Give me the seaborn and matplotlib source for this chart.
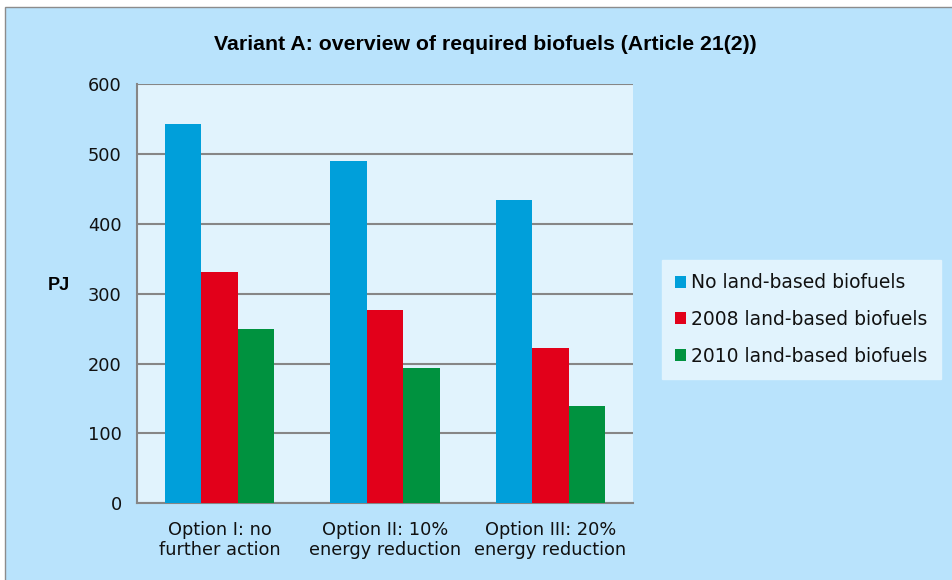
import numpy as np
import pandas as pd
import matplotlib.pyplot as plt
import seaborn as sns
from matplotlib.patches import Rectangle

# Data
options = ['Option I: no\nfurther action', 'Option II: 10%\nenergy reduction', 'Option III: 20%\nenergy reduction']
no_land = [544, 490, 435]
land_2008 = [331, 277, 222]
land_2010 = [249, 194, 140]
series = ['No land-based biofuels', '2008 land-based biofuels', '2010 land-based biofuels']
colors = ['#009fda', '#e2001a', '#00923f']

df = pd.DataFrame({
    'option': options * 3,
    'scenario': [series[0]] * 3 + [series[1]] * 3 + [series[2]] * 3,
    'PJ': no_land + land_2008 + land_2010,
})

sns.set_style('white')
plt.rcParams['font.family'] = ['DejaVu Sans']
plt.rcParams['text.color'] = '#111111'

fig = plt.figure(figsize=(9.52, 5.8), dpi=100)
fig.patch.set_facecolor('white')
fig.patches.append(Rectangle((5 / 952, -0.05), 1.1, 1 - 7 / 580 + 0.05, transform=fig.transFigure,
                             facecolor='#b9e3fc', edgecolor='#8c8c8c', linewidth=1, zorder=-10))

ax = fig.add_axes([137 / 952, 1 - 503.3 / 580, (633 - 137) / 952, (503.3 - 84.5) / 580])
sns.barplot(data=df, x='option', y='PJ', hue='scenario', palette=colors, width=0.66,
            linewidth=0, saturation=1, ax=ax, zorder=3)

ax.set_facecolor('#e1f3fd')
ax.set_ylim(0, 600)
ax.set_xlim(-0.5, 2.5)
ax.set_yticks(range(0, 601, 100))
ax.yaxis.grid(True, color='#868686', linewidth=1.5, zorder=1)
ax.set_axisbelow(True)
for s in ['top', 'right']:
    ax.spines[s].set_visible(False)
for s in ['left', 'bottom']:
    ax.spines[s].set_color('#868686')
    ax.spines[s].set_linewidth(1.5)

ax.set_xticks([0, 1, 2])
ax.set_xticklabels(options, fontsize=12.8, color='#111111', linespacing=1.15)
ax.set_xticks([-0.5, 0.5, 1.5, 2.5], minor=True)
ax.tick_params(axis='x', which='major', length=0, pad=13)
ax.tick_params(axis='x', which='minor', length=5, color='#868686', width=1.5)
ax.tick_params(axis='y', length=5, color='#868686', width=1.5, labelsize=12.8, pad=6, labelcolor='#111111')
ax.set_xlabel('')
ax.set_ylabel('PJ', fontsize=13, fontweight='bold', rotation=0, fontfamily='Liberation Sans', color='black')
ax.yaxis.set_label_coords(-0.158, 0.5)

fig.text(485 / 952, 1 - 45 / 580, 'Variant A: overview of required biofuels (Article 21(2))',
         ha='center', va='center', fontsize=15.3, fontweight='bold', fontfamily='Liberation Sans', color='black')

leg = ax.legend(loc='center left', bbox_to_anchor=(662 / 952, 1 - 319.5 / 580), bbox_transform=fig.transFigure,
                frameon=True, fontsize=13.5, handlelength=0.6, handleheight=0.6, handletextpad=0.25,
                labelspacing=0.95, borderpad=0.7, borderaxespad=0, fancybox=False)
leg.get_frame().set_facecolor('#e1f3fd')
leg.get_frame().set_edgecolor('#e1f3fd')
leg.get_frame().set_alpha(1)
for t in leg.get_texts():
    t.set_color('#111111')

fig.savefig('out.png', dpi=100, facecolor=fig.get_facecolor())
